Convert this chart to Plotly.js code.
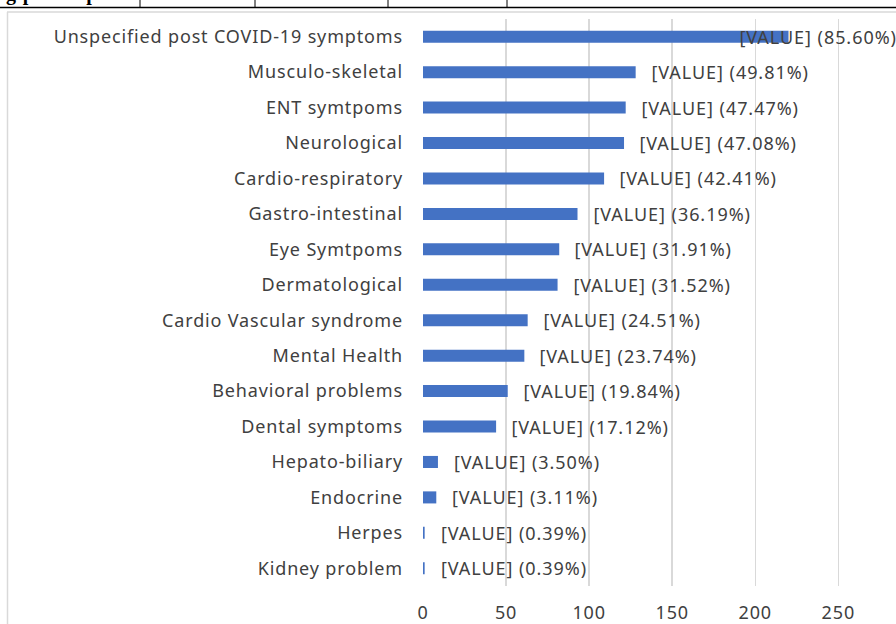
<!DOCTYPE html>
<html>
<head>
<meta charset="utf-8">
<script src="https://cdn.plot.ly/plotly-3.0.1.min.js"></script>
<style>
  html, body { margin: 0; padding: 0; background: #ffffff; overflow: hidden; }
  #chart { width: 896px; height: 624px; }
  #chart .ytick text, #chart .xtick text { letter-spacing: 0.85px; }
  #chart .annotation-text { letter-spacing: 0.95px; }
</style>
</head>
<body>
<div id="chart"></div>
<script>
const categories = [
  "Unspecified post COVID-19 symptoms",
  "Musculo-skeletal",
  "ENT symtpoms",
  "Neurological",
  "Cardio-respiratory",
  "Gastro-intestinal",
  "Eye Symtpoms",
  "Dermatological",
  "Cardio Vascular syndrome",
  "Mental Health",
  "Behavioral problems",
  "Dental symptoms",
  "Hepato-biliary",
  "Endocrine",
  "Herpes",
  "Kidney problem"
];
const counts = [220, 128, 122, 121, 109, 93, 82, 81, 63, 61, 51, 44, 9, 8, 1, 1];
const percents = [85.60, 49.81, 47.47, 47.08, 42.41, 36.19, 31.91, 31.52, 24.51, 23.74, 19.84, 17.12, 3.50, 3.11, 0.39, 0.39];
const xTicks = [0, 50, 100, 150, 200, 250];
const headerText = "ng participants";

const textColor = "#404040";
const labelFont = { family: "Noto Sans, Open Sans, sans-serif", size: 18, color: textColor };

// pixel geometry helpers (plot area)
const L = 423, T = 19, W = 471, H = 567;
const px = x => (x - L) / W;
const py = y => (T + H - y) / H;

const annotations = categories.map((c, i) => {
  const label = "[VALUE] (" + percents[i].toFixed(2) + "%)";
  if (counts[i] > 200) {
    return { x: 1, xref: "paper", y: c, yref: "y", text: label, showarrow: false,
             xanchor: "right", yanchor: "middle", xshift: -3, font: labelFont };
  }
  return { x: counts[i], xref: "x", y: c, yref: "y", text: label, showarrow: false,
           xanchor: "left", yanchor: "middle", xshift: 21, font: labelFont };
});

annotations.push({
  x: px(-1), xref: "paper", y: py(7), yref: "paper", text: "<b>" + headerText + "</b>",
  showarrow: false, xanchor: "left", yanchor: "bottom",
  font: { family: "Liberation Serif, Times New Roman, serif", size: 20, color: "#000000" }
});

const shapes = [
  // table bottom line
  { type: "line", xref: "paper", yref: "paper", x0: px(-5), x1: px(900), y0: py(7.5), y1: py(7.5),
    line: { color: "#000000", width: 1.5 } },
  // table vertical lines
  ...[140, 255, 388, 507].map(x => ({ type: "line", xref: "paper", yref: "paper",
    x0: px(x), x1: px(x), y0: py(-5), y1: py(7.5), line: { color: "#000000", width: 1 } })),
  // chart frame
  { type: "line", xref: "paper", yref: "paper", x0: px(7), x1: px(900), y0: py(12), y1: py(12),
    line: { color: "#D9D9D9", width: 1.5 } },
  { type: "line", xref: "paper", yref: "paper", x0: px(7.5), x1: px(7.5), y0: py(12), y1: py(630),
    line: { color: "#D9D9D9", width: 1.5 } }
];

const trace = {
  type: "bar",
  orientation: "h",
  x: counts,
  y: categories,
  marker: { color: "#4472C4" },
  hoverinfo: "none"
};

const layout = {
  width: 896,
  height: 624,
  margin: { l: L, r: 896 - L - W, t: T, b: 624 - T - H },
  paper_bgcolor: "#ffffff",
  plot_bgcolor: "#ffffff",
  showlegend: false,
  bargap: 0.66,
  xaxis: {
    range: [0, 283.5],
    tickvals: xTicks,
    ticktext: xTicks.map(String),
    showgrid: true,
    gridcolor: "#D9D9D9",
    gridwidth: 1.5,
    zeroline: false,
    showline: false,
    ticks: "",
    tickfont: labelFont,
    ticklabelstandoff: 14,
    fixedrange: true
  },
  yaxis: {
    type: "category",
    autorange: "reversed",
    showgrid: false,
    zeroline: false,
    showline: false,
    ticks: "",
    tickfont: labelFont,
    ticklabelstandoff: 19,
    fixedrange: true
  },
  annotations: annotations,
  shapes: shapes
};

Plotly.newPlot("chart", [trace], layout, { displayModeBar: false, staticPlot: true });
</script>
</body>
</html>
